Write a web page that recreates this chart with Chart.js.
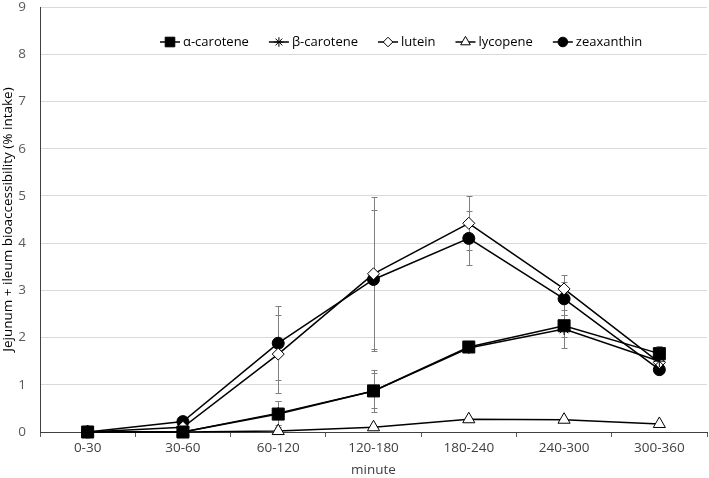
<!DOCTYPE html>
<html>
<head>
<meta charset="utf-8">
<script src="https://cdn.jsdelivr.net/npm/chart.js@4/dist/chart.umd.min.js"></script>
<style>
  html, body { margin: 0; padding: 0; background: #fff; }
  #wrap { width: 709px; height: 478px; }
</style>
</head>
<body>
<div id="wrap"><canvas id="c" width="709" height="478"></canvas></div>
<script>
const categories = ['0-30', '30-60', '60-120', '120-180', '180-240', '240-300', '300-360'];

const alphaCarotene = [0, 0, 0.38, 0.87, 1.80, 2.25, 1.66];
const betaCarotene  = [0, 0, 0.40, 0.87, 1.78, 2.18, 1.50];
const lutein        = [0, 0.10, 1.65, 3.35, 4.42, 3.03, 1.47];
const lycopene      = [0, 0, 0.02, 0.10, 0.27, 0.26, 0.17];
const zeaxanthin    = [0, 0.22, 1.88, 3.23, 4.10, 2.82, 1.32];

const alphaErr      = [0, 0, 0.28, 0.44, 0.05, 0.23, 0.16];
const betaErr       = [0, 0, 0.25, 0.37, 0.05, 0.40, 0.12];
const luteinErr     = [0, 0.05, 0.82, 1.63, 0.57, 0.30, 0.10];
const lycopeneErr   = [0, 0, 0.02, 0.03, 0.03, 0.03, 0.02];
const zeaxanthinErr = [0, 0.05, 0.78, 1.47, 0.57, 0.35, 0.10];

const seriesLabels = ['α-carotene', 'β-carotene', 'lutein', 'lycopene', 'zeaxanthin'];
const yTicks = [0, 1, 2, 3, 4, 5, 6, 7, 8, 9];

const FONT = '"Open Sans", "Noto Sans", sans-serif';

const errorBars = {
  id: 'errorBars',
  beforeDatasetsDraw(chart) {
    const ctx = chart.ctx;
    const xs = chart.scales.x, ys = chart.scales.y;
    ctx.save();
    ctx.strokeStyle = '#7f7f7f';
    ctx.lineWidth = 1;
    chart.data.datasets.forEach(ds => {
      ds.data.forEach((v, j) => {
        const e = ds.err[j];
        if (!e) return;
        const x = Math.round(xs.getPixelForValue(j)) + 0.5;
        const yt = Math.round(ys.getPixelForValue(v + e)) + 0.5;
        const yb = Math.round(ys.getPixelForValue(Math.max(0, v - e))) + 0.5;
        ctx.beginPath();
        ctx.moveTo(x, yt); ctx.lineTo(x, yb);
        ctx.moveTo(x - 3, yt); ctx.lineTo(x + 3, yt);
        ctx.moveTo(x - 3, yb); ctx.lineTo(x + 3, yb);
        ctx.stroke();
      });
    });
    ctx.restore();
  }
};

const customLegend = {
  id: 'customLegend',
  afterDraw(chart) {
    const ctx = chart.ctx;
    ctx.save();
    ctx.font = '13px ' + FONT;
    ctx.textBaseline = 'middle';
    ctx.fillStyle = '#000';
    let x = 160;
    const y = 42;
    chart.data.datasets.forEach(ds => {
      ctx.strokeStyle = '#000';
      ctx.lineWidth = 1.5;
      ctx.beginPath();
      ctx.moveTo(x, y); ctx.lineTo(x + 20, y);
      ctx.stroke();
      ctx.fillStyle = ds.pointBackgroundColor;
      ctx.strokeStyle = '#000';
      ctx.lineWidth = 1;
      Chart.helpers.drawPoint(ctx, {
        pointStyle: ds.pointStyle,
        radius: ds.pointRadius * 0.8,
        rotation: 0,
        borderWidth: 1
      }, x + 10, y);
      ctx.fillStyle = '#000';
      ctx.fillText(ds.label, x + 23, y);
      x += 23 + ctx.measureText(ds.label).width + 20;
    });
    ctx.restore();
  }
};

function mk(label, data, err, style, fill, radius) {
  return {
    label, data, err,
    borderColor: '#000',
    borderWidth: 1.5,
    pointStyle: style,
    pointRadius: radius,
    pointHoverRadius: radius,
    pointBackgroundColor: fill,
    pointBorderColor: '#000',
    pointBorderWidth: 1,
    tension: 0,
    fill: false,
    clip: false
  };
}

new Chart(document.getElementById('c'), {
  type: 'line',
  data: {
    labels: categories,
    datasets: [
      mk(seriesLabels[0], alphaCarotene, alphaErr, 'rect', '#000', 8.5),
      mk(seriesLabels[1], betaCarotene, betaErr, 'star', '#fff', 6),
      mk(seriesLabels[2], lutein, luteinErr, 'rectRot', '#fff', 6),
      mk(seriesLabels[3], lycopene, lycopeneErr, 'triangle', '#fff', 7),
      mk(seriesLabels[4], zeaxanthin, zeaxanthinErr, 'circle', '#000', 6)
    ]
  },
  options: {
    responsive: false,
    animation: false,
    events: [],
    layout: { autoPadding: false, padding: { top: 0, right: 2, left: 0, bottom: 0 } },
    plugins: {
      legend: { display: false },
      tooltip: { enabled: false }
    },
    scales: {
      x: {
        type: 'category',
        offset: true,
        grid: {
          offset: true,
          drawOnChartArea: false,
          drawTicks: true,
          tickLength: 5,
          color: '#595959'
        },
        border: { color: '#404040', width: 1 },
        ticks: { color: '#404040', font: { family: FONT, size: 13.5 }, padding: 3, maxRotation: 0 },
        title: { display: true, text: 'minute', color: '#404040', font: { family: FONT, size: 13.5 }, padding: { top: 1, bottom: 0 } },
        afterFit(s) { s.height = 46; s.paddingLeft = 0; s.paddingRight = 0; }
      },
      y: {
        min: 0, max: 9,
        afterBuildTicks(s) { s.ticks = yTicks.map(v => ({ value: v })); },
        grid: { color: '#d9d9d9', drawTicks: true, tickLength: 12, tickColor: 'rgba(0,0,0,0)' },
        border: { color: '#404040', width: 1 },
        ticks: { color: '#595959', font: { family: FONT, size: 13.5 }, padding: 2 },
        title: { display: true, text: 'Jejunum + ileum bioaccessibility (% intake)', color: '#000', font: { family: FONT, size: 13.5 }, padding: { top: 0, bottom: 0 } },
        afterFit(s) { s.width = 40; s.paddingTop = 7; s.paddingBottom = 0; }
      }
    }
  },
  plugins: [errorBars, customLegend]
});
</script>
</body>
</html>
